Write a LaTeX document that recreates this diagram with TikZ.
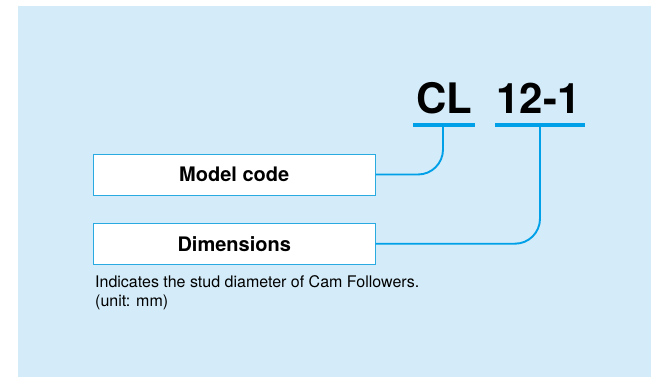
\documentclass[tikz,border=0pt]{standalone}
\usepackage{fontspec}
\setmainfont{TeX Gyre Heros}
\definecolor{bgblue}{HTML}{D4ECF9}
\definecolor{linecyan}{HTML}{00A0E9}
\definecolor{boxcyan}{HTML}{29ABE2}
\begin{document}
\begin{tikzpicture}[x=1pt,y=-1pt,
  codetext/.style={font=\fontsize{42}{42}\selectfont\bfseries, inner sep=0pt, anchor=base},
  labelbox/.style={draw=boxcyan, line width=0.9pt, fill=white, minimum width=282pt, minimum height=41pt, inner sep=0pt, font=\fontsize{20}{20}\selectfont\bfseries},
  conn/.style={draw=linecyan, line width=1.9pt, rounded corners=25pt},
  uline/.style={draw=linecyan, line width=4pt}]
\useasboundingbox (0,0) rectangle (651,377);
\fill[bgblue] (18,6) rectangle (651,377);
% code letters
\node[codetext] (cl) at (444,113.5) {CL};
\node[codetext] (num) at (538.5,113.5) {12-1};
% underlines
\coordinate (u1a) at (413,125.5);
\coordinate (u1b) at (475,125.5);
\coordinate (u2a) at (495,125.5);
\coordinate (u2b) at (585,125.5);
\draw[uline] (u1a) -- (u1b);
\draw[uline] (u2a) -- (u2b);
\coordinate (u1) at (443,127);
\coordinate (u2) at (540,127);
% boxes
\node[labelbox] (mc) at (234.2,174.5) {\raisebox{-1pt}{Model code}};
\node[labelbox] (dim) at (234.2,243.7) {\raisebox{-1pt}{Dimensions}};
% connectors
\draw[conn] (mc.east) -| (u1);
\draw[conn] (dim.east) -| (u2);
% description
\node[anchor=base west, inner sep=0pt, align=left, font=\fontsize{16}{19.5}\selectfont] (desc) at (95,306.5) {Indicates the stud diameter of Cam Followers.\\(unit: mm)};
\end{tikzpicture}
\end{document}
